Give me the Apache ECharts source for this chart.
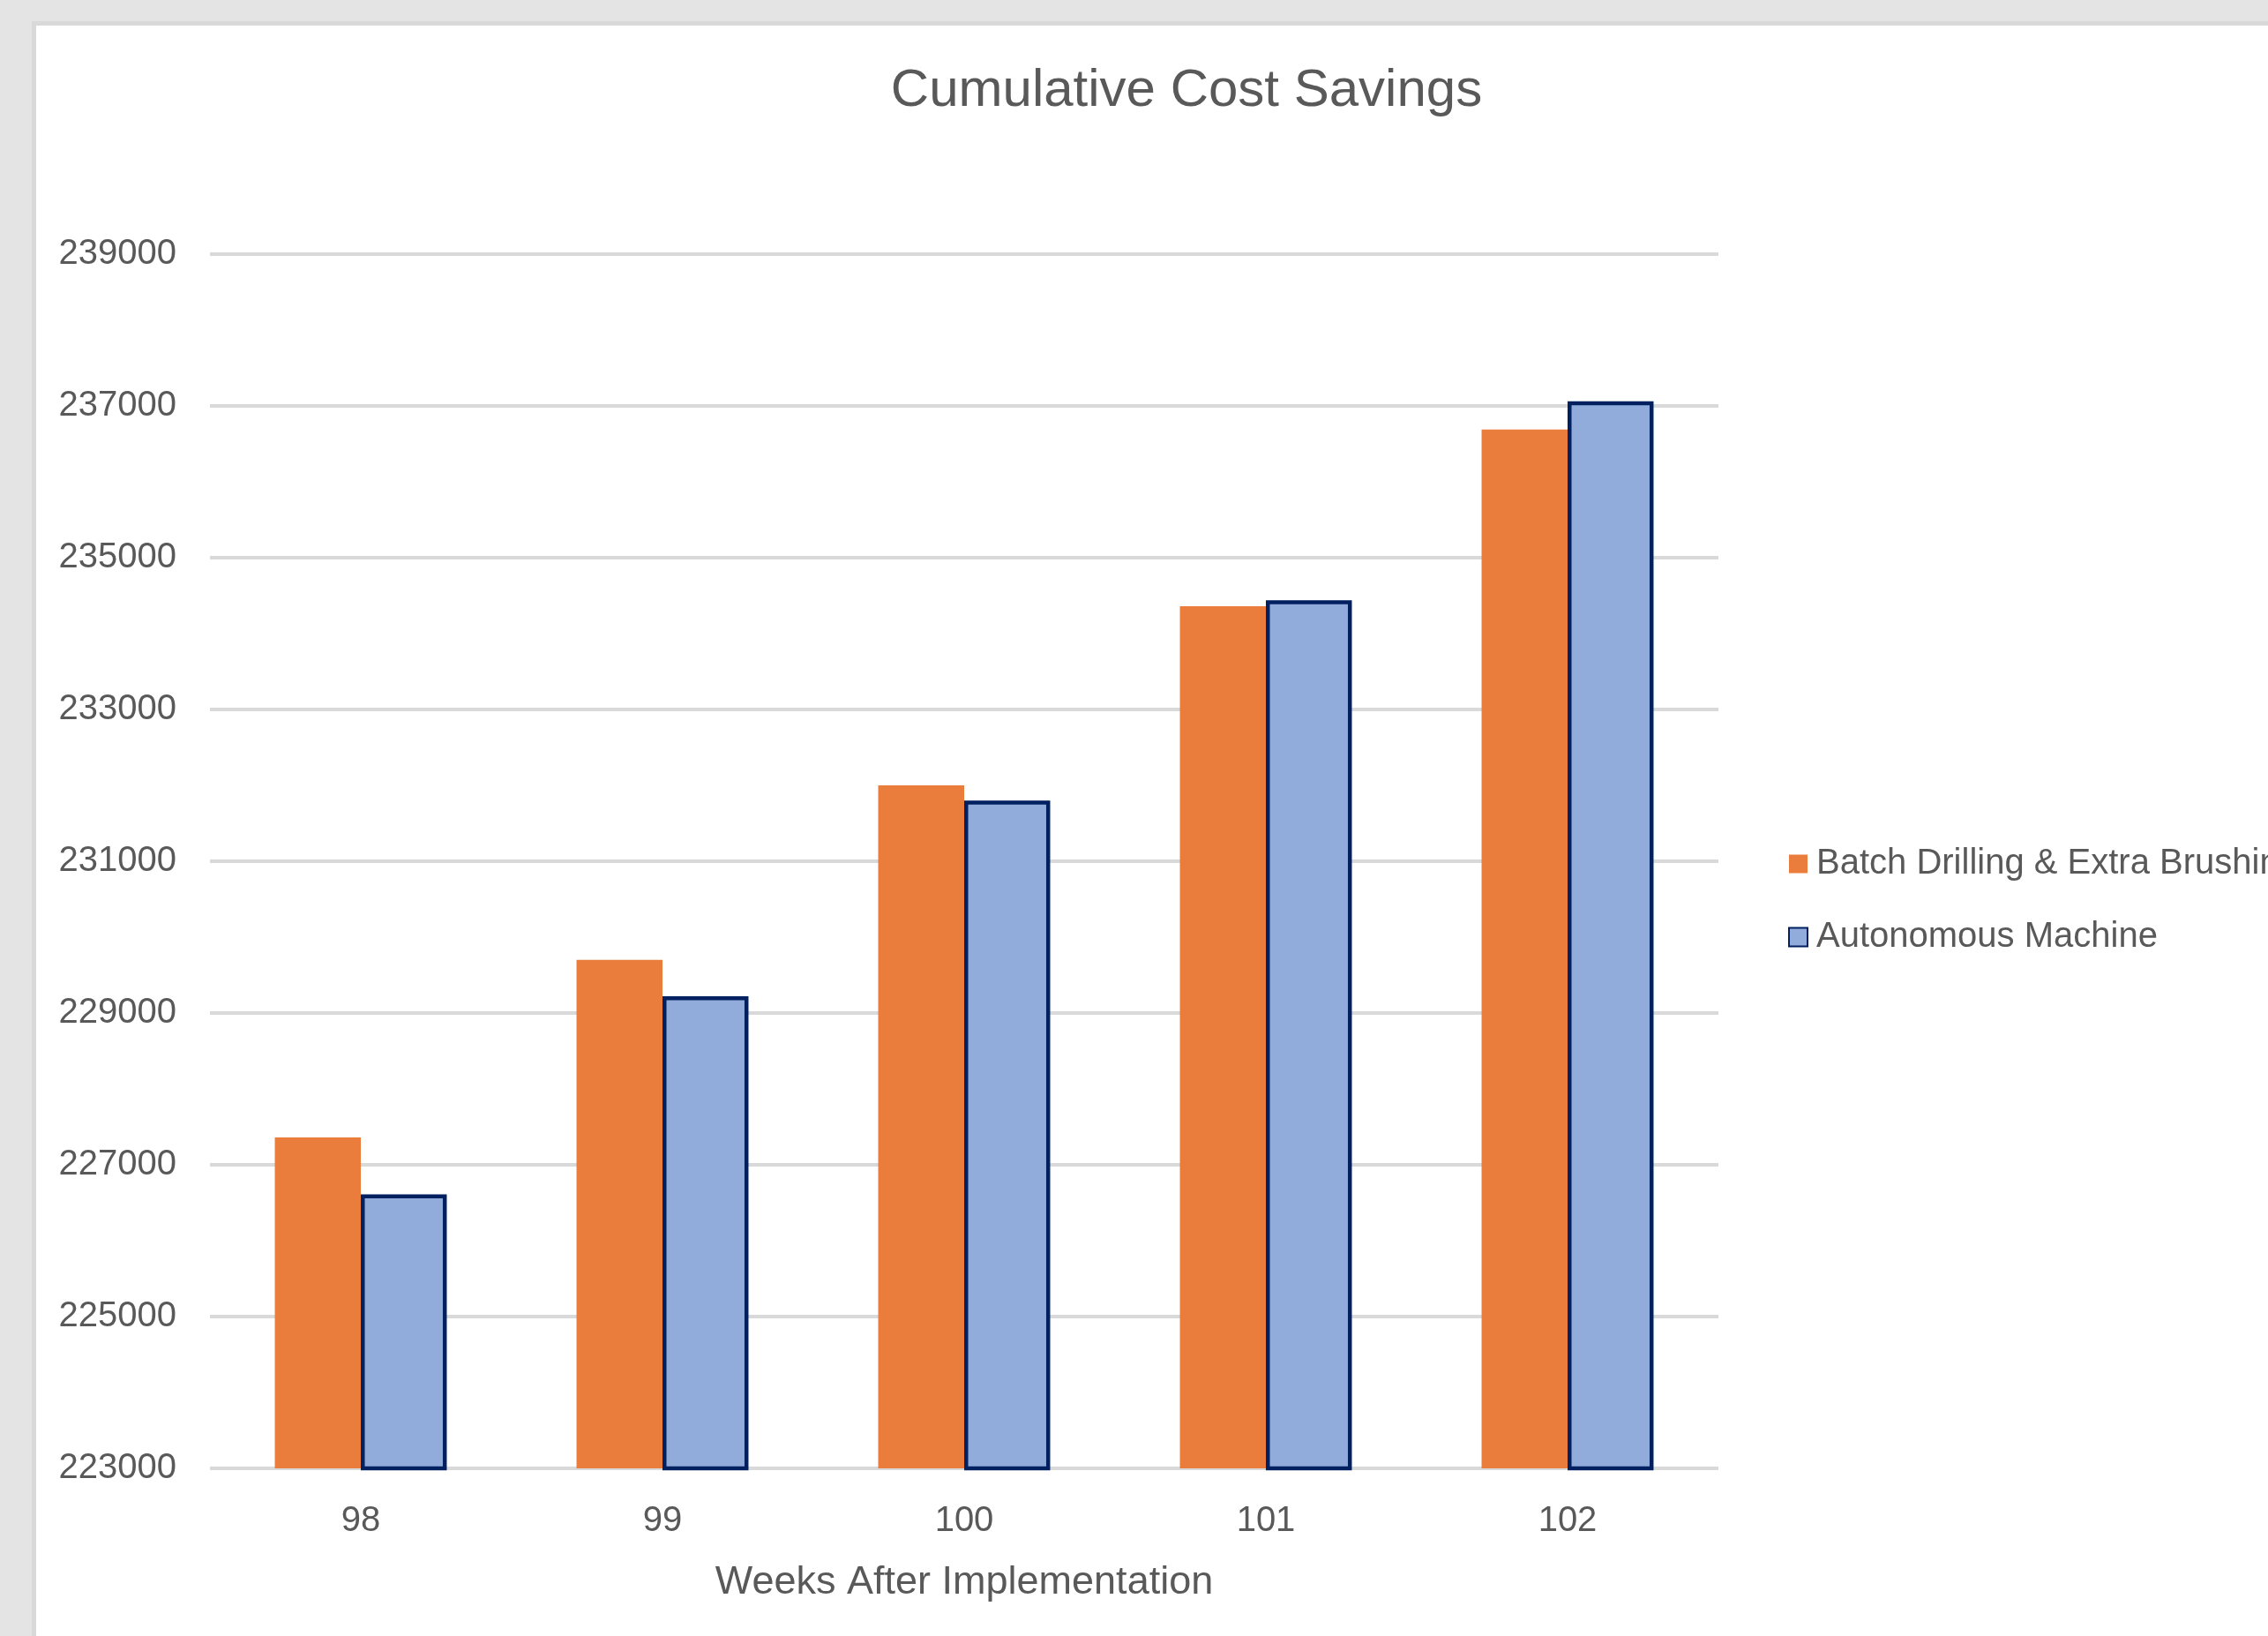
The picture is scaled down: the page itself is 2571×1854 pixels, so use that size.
<!DOCTYPE html>
<html>
<head>
<meta charset="utf-8">
<script src="https://cdn.jsdelivr.net/npm/echarts@6/dist/echarts.min.js"></script>
<style>
  html, body { margin: 0; padding: 0; background: #e4e4e4; }
  #chart { width: 2571px; height: 1854px; }
</style>
</head>
<body>
<div id="chart"></div>
<script>
const categories = ['98', '99', '100', '101', '102'];
const batchDrilling = [227360, 229700, 232000, 234360, 236690];
const autonomousMachine = [226610, 229220, 231800, 234440, 237060];
const yTicks = [223000, 225000, 227000, 229000, 231000, 233000, 235000, 237000, 239000];
const seriesNames = ['Batch Drilling & Extra Brushing', 'Autonomous Machine'];

const chart = echarts.init(document.getElementById('chart'), null, { renderer: 'canvas' });
const font = '"Liberation Sans", Arial, sans-serif';
const textColor = '#595959';

chart.setOption({
  backgroundColor: '#e4e4e4',
  animation: false,
  graphic: [
    { type: 'rect', z: -10, silent: true, shape: { x: 36, y: 24, width: 2600, height: 1900 }, style: { fill: '#d9d9d9' } },
    { type: 'rect', z: -9, silent: true, shape: { x: 41, y: 29, width: 2600, height: 1900 }, style: { fill: '#ffffff' } }
  ],
  title: {
    text: 'Cumulative Cost Savings',
    left: 1340,
    top: 68,
    textAlign: 'center',
    textStyle: { fontFamily: font, fontSize: 60, fontWeight: 'normal', color: textColor }
  },
  legend: {
    orient: 'vertical',
    left: 2022,
    top: 954,
    itemWidth: 21,
    itemHeight: 21,
    itemGap: 43,
    icon: 'rect',
    textStyle: { fontFamily: font, fontSize: 40, color: textColor, padding: [0, 0, 0, 5] },
    data: seriesNames
  },
  grid: { left: 238, right: 623, top: 288, bottom: 190, containLabel: false },
  xAxis: {
    type: 'category',
    data: categories,
    name: 'Weeks After Implementation',
    nameLocation: 'middle',
    nameGap: 107,
    nameTextStyle: { fontFamily: font, fontSize: 45, color: textColor },
    axisLine: { show: false },
    axisTick: { show: false },
    axisLabel: { fontFamily: font, fontSize: 40, color: textColor, margin: 40 },
    splitLine: { show: false }
  },
  yAxis: {
    type: 'value',
    min: yTicks[0],
    max: yTicks[yTicks.length - 1],
    interval: 2000,
    axisLine: { show: false },
    axisTick: { show: false, customValues: yTicks },
    axisLabel: {
      fontFamily: font, fontSize: 40, color: textColor, margin: 38,
      customValues: yTicks,
      formatter: function (v) { return String(v); }
    },
    splitLine: { show: true, lineStyle: { color: '#d9d9d9', width: 4 } }
  },
  series: [
    {
      name: seriesNames[0],
      type: 'bar',
      data: batchDrilling,
      barGap: '0%',
      barCategoryGap: '43%',
      itemStyle: { color: '#ea7d3c' }
    },
    {
      name: seriesNames[1],
      type: 'bar',
      data: autonomousMachine,
      barGap: '0%',
      barCategoryGap: '43%',
      itemStyle: { color: '#91acda', borderColor: '#002060', borderWidth: 4.5 }
    }
  ]
});
</script>
</body>
</html>
